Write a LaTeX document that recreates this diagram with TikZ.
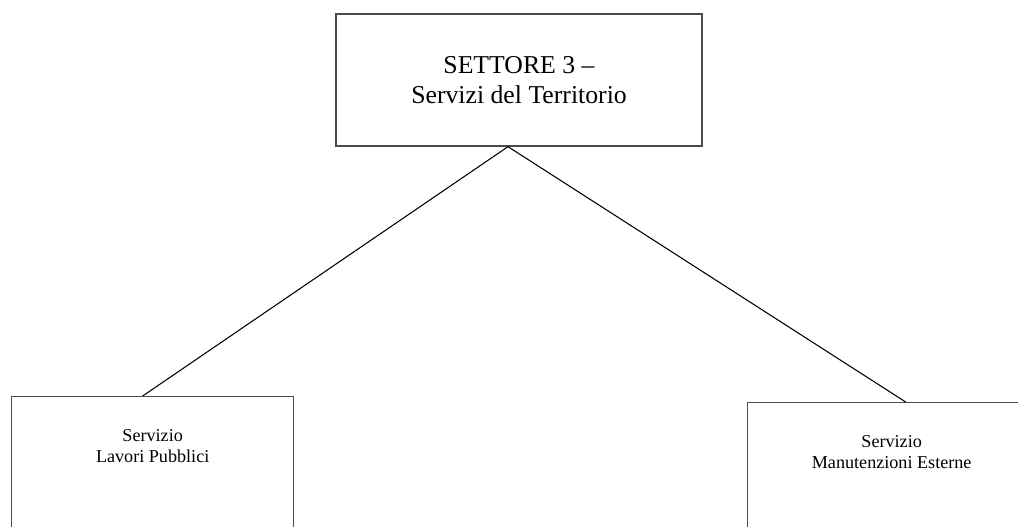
\documentclass[tikz,border=0pt]{standalone}
\usepackage{fontspec}
\setmainfont{Liberation Serif}
\begin{document}
\begin{tikzpicture}[x=0.75pt,y=-0.75pt,
  box/.style={draw=black!70,line width=1pt,rectangle,inner sep=0pt},
  bigtext/.style={align=center,font=\fontsize{19.3}{22.5}\selectfont},
  smalltext/.style={align=center,inner sep=0pt,anchor=north,font=\fontsize{13.6}{16}\selectfont}]
	\useasboundingbox (0,0) rectangle (1018,527);
	\node[box,bigtext,minimum width=274.5pt,minimum height=99pt] (settore) at (519,80) {SETTORE 3 –\\Servizi del Territorio};
	\node[box,anchor=north west,minimum width=211.5pt,minimum height=150pt] (lavori) at (11,396) {};
	\node[box,anchor=north west,minimum width=216pt,minimum height=150pt] (manut) at (747,402) {};
	\node[smalltext] (lavoritxt) at ([yshift=-25pt]lavori.north) {Servizio\\Lavori Pubblici};
	\node[smalltext] (manuttxt) at ([yshift=-25pt]manut.north) {Servizio\\Manutenzioni Esterne};
	\draw[line width=0.8pt] ([xshift=-8.25pt]settore.south) -- ([xshift=-7.5pt]lavori.north);
	\draw[line width=0.8pt] ([xshift=-8.25pt]settore.south) -- ([xshift=10.5pt]manut.north);
\end{tikzpicture}
\end{document}
